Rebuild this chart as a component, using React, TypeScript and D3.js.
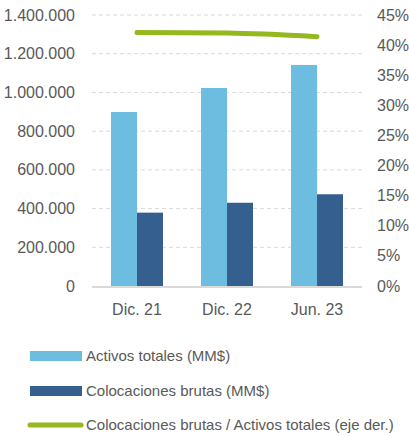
import React, { useEffect, useRef } from 'react';
import * as d3 from 'd3';

const categories = ['Dic. 21', 'Dic. 22', 'Jun. 23'];
const activosTotales = [899000, 1023000, 1142000];
const colocacionesBrutas = [379000, 430000, 474000];
const ratio = [42.1, 42.0, 41.4];
const leftTicks = [0, 200000, 400000, 600000, 800000, 1000000, 1200000, 1400000];
const rightTicks = [0, 5, 10, 15, 20, 25, 30, 35, 40, 45];
const legendLabels = [
  'Activos totales (MM$)',
  'Colocaciones brutas (MM$)',
  'Colocaciones brutas / Activos totales (eje der.)',
];

const LIGHT = '#6dbde0';
const DARK = '#355f8e';
const GREEN = '#95b81f';
const TEXT = '#595959';
const FONT = '"Liberation Sans", Arial, sans-serif';

const App = () => {
  const ref = useRef<SVGSVGElement | null>(null);

  useEffect(() => {
    const width = 409;
    const height = 436;
    const left = 92;
    const right = 362;
    const top = 15;
    const bottom = 286;

    const svg = d3.select(ref.current);
    svg.selectAll('*').remove();

    const x = d3.scaleBand<string>().domain(categories).range([left, right]);
    const y = d3.scaleLinear().domain([0, 1400000]).range([bottom, top]);
    const y2 = d3.scaleLinear().domain([0, 45]).range([bottom, top]);
    const fmt = (v: number) => d3.format(',')(v).replace(/,/g, '.');

    // gridlines
    svg
      .append('g')
      .selectAll('line')
      .data(leftTicks.filter((t) => t > 0))
      .join('line')
      .attr('x1', left)
      .attr('x2', right)
      .attr('y1', (d) => y(d))
      .attr('y2', (d) => y(d))
      .attr('stroke', '#d9d9d9')
      .attr('stroke-width', 1)
      .attr('stroke-dasharray', '4,3');

    // left axis labels
    svg
      .append('g')
      .selectAll('text')
      .data(leftTicks)
      .join('text')
      .attr('x', 75)
      .attr('y', (d) => y(d))
      .attr('dy', '0.35em')
      .attr('text-anchor', 'end')
      .attr('font-family', FONT)
      .attr('font-size', 16)
      .attr('fill', TEXT)
      .text((d) => fmt(d));

    // right axis labels
    svg
      .append('g')
      .selectAll('text')
      .data(rightTicks)
      .join('text')
      .attr('x', 377)
      .attr('y', (d) => y2(d))
      .attr('dy', '0.35em')
      .attr('font-family', FONT)
      .attr('font-size', 16)
      .attr('fill', TEXT)
      .text((d) => `${d}%`);

    const barW = 26;

    // bars
    const groups = svg
      .append('g')
      .selectAll('g')
      .data(categories)
      .join('g');

    groups
      .append('rect')
      .attr('x', (d) => x(d)! + x.bandwidth() / 2 - barW)
      .attr('y', (_, i) => y(activosTotales[i]))
      .attr('width', barW)
      .attr('height', (_, i) => bottom - y(activosTotales[i]))
      .attr('fill', LIGHT);

    groups
      .append('rect')
      .attr('x', (d) => x(d)! + x.bandwidth() / 2)
      .attr('y', (_, i) => y(colocacionesBrutas[i]))
      .attr('width', barW)
      .attr('height', (_, i) => bottom - y(colocacionesBrutas[i]))
      .attr('fill', DARK);

    // baseline
    svg
      .append('line')
      .attr('x1', left)
      .attr('x2', right)
      .attr('y1', bottom + 1)
      .attr('y2', bottom + 1)
      .attr('stroke', '#d9d9d9')
      .attr('stroke-width', 2);

    // x labels
    svg
      .append('g')
      .selectAll('text')
      .data(categories)
      .join('text')
      .attr('x', (d) => x(d)! + x.bandwidth() / 2)
      .attr('y', 309)
      .attr('dy', '0.35em')
      .attr('text-anchor', 'middle')
      .attr('font-family', FONT)
      .attr('font-size', 16)
      .attr('fill', TEXT)
      .text((d) => d);

    // ratio line
    const line = d3
      .line<number>()
      .x((_, i) => x(categories[i])! + x.bandwidth() / 2)
      .y((d) => y2(d))
      .curve(d3.curveMonotoneX);

    svg
      .append('path')
      .datum(ratio)
      .attr('d', line)
      .attr('fill', 'none')
      .attr('stroke', GREEN)
      .attr('stroke-width', 5)
      .attr('stroke-linecap', 'round');

    // legend
    const legendY = [356, 391, 425];
    const legend = svg
      .append('g')
      .selectAll('g')
      .data(legendLabels)
      .join('g')
      .attr('transform', (_, i) => `translate(0, ${legendY[i]})`);

    legend.each(function (_, i) {
      const g = d3.select(this);
      if (i < 2) {
        g.append('rect')
          .attr('x', 30)
          .attr('y', -5)
          .attr('width', 52)
          .attr('height', 10)
          .attr('fill', i === 0 ? LIGHT : DARK);
      } else {
        g.append('line')
          .attr('x1', 30)
          .attr('x2', 81)
          .attr('y1', 0)
          .attr('y2', 0)
          .attr('stroke', GREEN)
          .attr('stroke-width', 5)
          .attr('stroke-linecap', 'round');
      }
    });

    legend
      .append('text')
      .attr('x', 86)
      .attr('y', 0)
      .attr('dy', '0.35em')
      .attr('font-family', FONT)
      .attr('font-size', 15)
      .attr('fill', TEXT)
      .text((d) => d);

    svg.attr('width', width).attr('height', height);
  }, []);

  return (
    <svg
      ref={ref}
      width={409}
      height={436}
      style={{ position: 'absolute', left: 0, top: 0, background: '#fff' }}
    />
  );
};

export default App;
